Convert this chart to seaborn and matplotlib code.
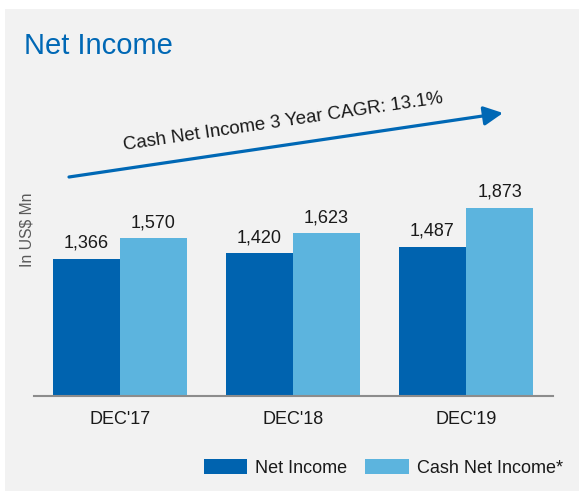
import pandas as pd
import matplotlib
matplotlib.use("Agg")
import matplotlib.pyplot as plt
from matplotlib.patches import Rectangle
import seaborn as sns

# dados do gráfico
periodos = ["DEC'17", "DEC'18", "DEC'19"]
series = ["Net Income", "Cash Net Income*"]
net_income = [1366, 1420, 1487]
cash_net_income = [1570, 1623, 1873]
cagr_texto = "Cash Net Income 3 Year CAGR: 13.1%"

df = pd.DataFrame({
    "periodo": periodos * 2,
    "serie": [series[0]] * 3 + [series[1]] * 3,
    "valor": net_income + cash_net_income,
})

cores = {series[0]: "#0063AF", series[1]: "#5CB4DE"}
azul_titulo = "#0068B5"
fundo = "#F2F2F2"

sns.set_theme(style="white")
plt.rcParams["font.family"] = ["Liberation Sans", "DejaVu Sans"]

W, H = 579, 491
fig = plt.figure(figsize=(W / 100, H / 100), dpi=100, facecolor="white")

# painel cinza
fig.add_artist(Rectangle((5 / W, 0), 1 - 5 / W, 1 - 9 / H, transform=fig.transFigure,
                         facecolor=fundo, edgecolor="none", zorder=0))

ax = fig.add_axes([33.5 / W, 95 / H, 519 / W, 246 / H])
ax.set_facecolor("none")

sns.barplot(data=df, x="periodo", y="valor", hue="serie", order=periodos,
            hue_order=series, palette=cores, width=0.775, linewidth=0,
            saturation=1, ax=ax, legend=True)

for cont in ax.containers:
    ax.bar_label(cont, labels=[f"{v:,.0f}" for v in cont.datavalues],
                 padding=5, fontsize=13, color="#1a1a1a")

ax.set_ylim(0, 2450)
ax.set_xlim(-0.5, 2.5)
ax.set_yticks([])
ax.set_xlabel("")
ax.set_ylabel("")
for s in ["top", "left", "right"]:
    ax.spines[s].set_visible(False)
ax.spines["bottom"].set_color("#8c8c8c")
ax.spines["bottom"].set_linewidth(1.5)
ax.tick_params(axis="x", length=0, pad=11, labelsize=13, labelcolor="#1a1a1a")

handles, labels = ax.get_legend_handles_labels()
ax.legend_.remove()
fig.legend(handles, labels, ncol=2, frameon=False, loc="center left",
           bbox_to_anchor=(195 / W, 1 - 468 / H), borderpad=0, fontsize=13,
           handlelength=2.39, handleheight=0.94, handletextpad=0.45,
           columnspacing=1.0, labelcolor="#1a1a1a")

# título e rótulo do eixo
fig.text(24 / W, 1 - 54 / H, "Net Income", fontsize=21, color=azul_titulo,
         ha="left", va="baseline")
fig.text(27 / W, 1 - 230 / H, "In US$ Mn", rotation=90, fontsize=11.3,
         color="#595959", ha="center", va="center")

# seta CAGR
ax.annotate("", xy=(503 / W, 1 - 113 / H), xytext=(69 / W, 1 - 177 / H),
            xycoords="figure fraction", textcoords="figure fraction",
            arrowprops=dict(arrowstyle="-|>", lw=2.3, color="#0068B5",
                            mutation_scale=29, shrinkA=0, shrinkB=0))
fig.text(283 / W, 1 - 122 / H, cagr_texto, rotation=8.4, fontsize=13.4,
         color="#1a1a1a", ha="center", va="center", rotation_mode="anchor")

fig.savefig("out.png", dpi=100, facecolor="white")
